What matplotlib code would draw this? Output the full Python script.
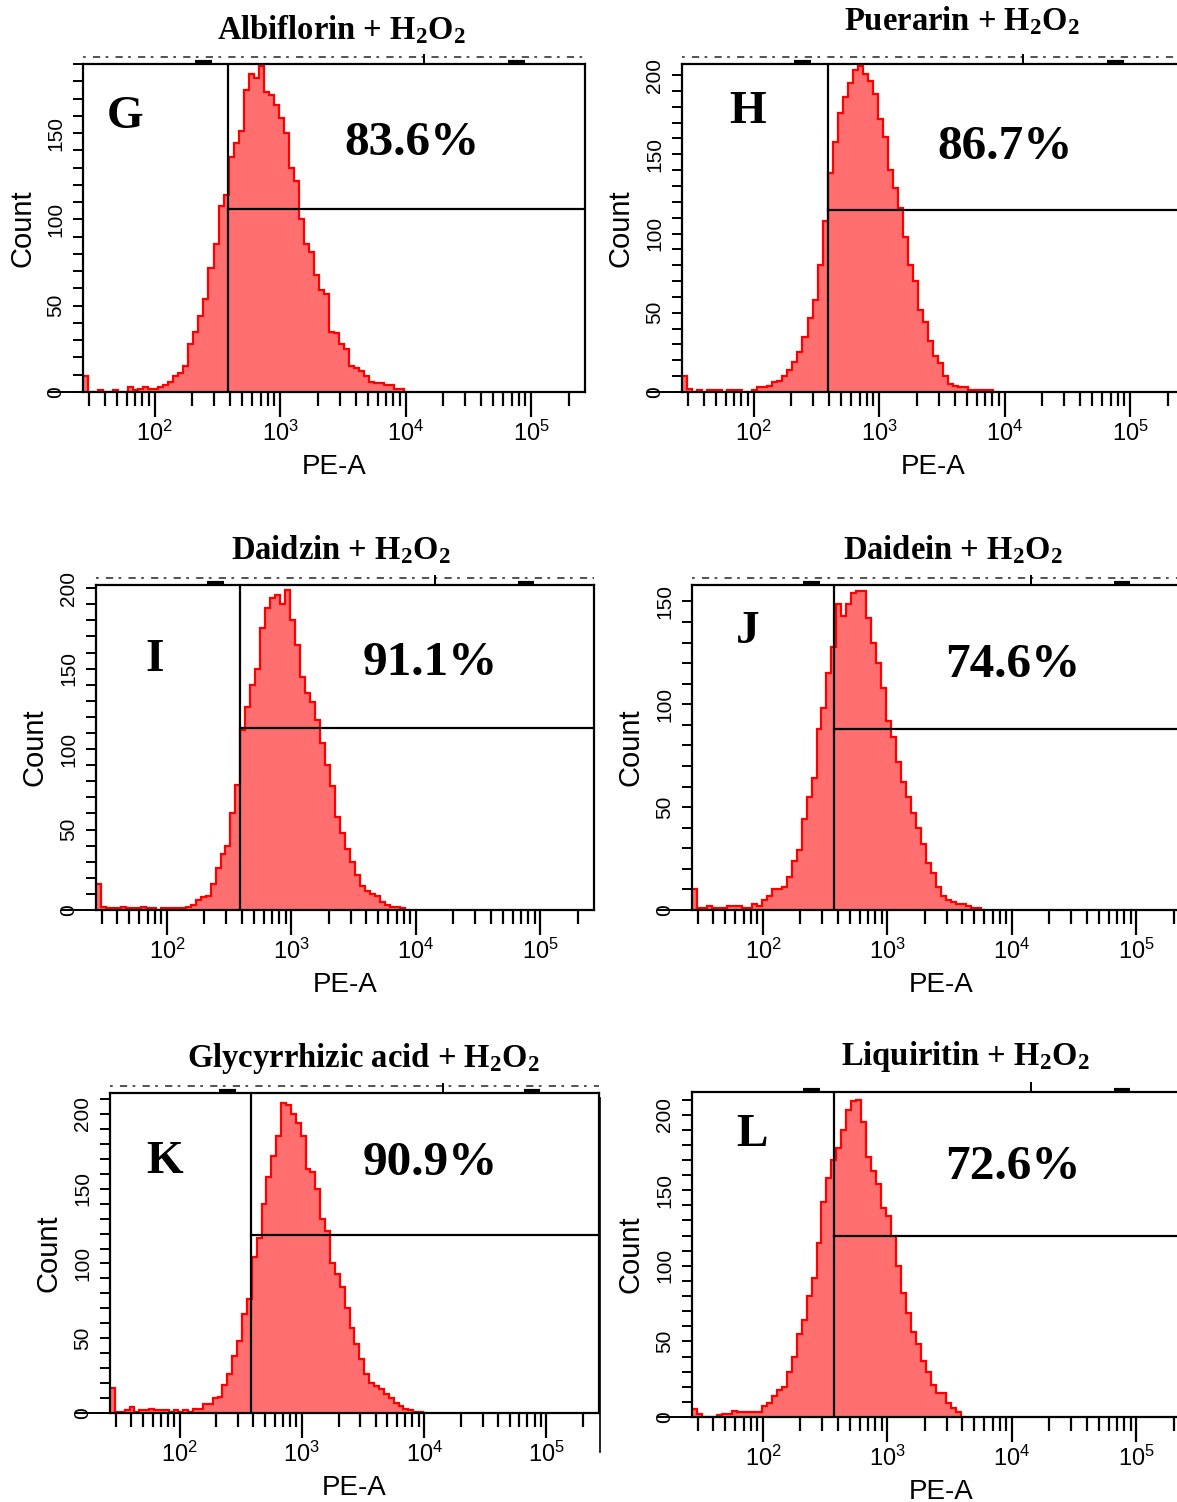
import numpy as np
import matplotlib.pyplot as plt
from matplotlib.ticker import MultipleLocator, LogLocator, FixedLocator, NullFormatter
from matplotlib.lines import Line2D

plt.rcParams['mathtext.fontset'] = 'custom'
plt.rcParams['mathtext.rm'] = 'Liberation Serif:bold'
plt.rcParams['mathtext.it'] = 'Liberation Serif:bold'
plt.rcParams['mathtext.bf'] = 'Liberation Serif:bold'
plt.rcParams['mathtext.sf'] = 'Liberation Sans'

# histogram bins in log10(PE-A): start and width
bin_start = 1.43
bin_step = 0.04

titles = ['Albiflorin', 'Puerarin', 'Daidzin', 'Daidein', 'Glycyrrhizic acid', 'Liquiritin']
letters = ['G', 'H', 'I', 'J', 'K', 'L']
percents = ['83.6%', '86.7%', '91.1%', '74.6%', '90.9%', '72.6%']
ymax = [190, 207, 202, 158, 214, 215]
gate_x = [385, 393, 383, 374, 385, 374]
gate_y = [106, 115, 113, 88, 119, 120]

counts_G = [9, 0, 0, 1, 0, 0, 1, 0, 0, 3, 1, 2, 3, 2, 2, 3, 4, 6, 9, 11,
            15, 28, 35, 44, 54, 72, 86, 108, 114, 136, 144, 151, 175, 184, 182, 189, 174, 172, 166, 159,
            150, 130, 122, 100, 86, 81, 68, 59, 57, 35, 34, 28, 25, 15, 14, 12, 9, 6, 5, 5,
            4, 4, 2, 2, 0]
counts_H = [10, 2, 0, 1, 0, 1, 1, 1, 0, 1, 1, 1, 0, 0, 1, 3, 3, 4, 6, 7,
            10, 14, 19, 25, 35, 47, 58, 80, 108, 138, 158, 176, 186, 195, 203, 206, 201, 196, 188, 172,
            161, 140, 129, 116, 98, 80, 70, 52, 44, 32, 23, 18, 10, 5, 4, 3, 3, 1, 1, 1,
            1, 1, 0]
counts_I = [16, 2, 1, 1, 1, 2, 1, 1, 1, 2, 1, 1, 0, 1, 1, 1, 1, 1, 2, 3,
            6, 8, 9, 16, 26, 35, 40, 60, 78, 112, 126, 140, 150, 175, 188, 194, 196, 190, 199, 180,
            165, 145, 135, 129, 118, 104, 90, 77, 58, 48, 38, 30, 22, 15, 12, 10, 9, 5, 3, 2,
            2, 1, 0]
counts_J = [10, 1, 1, 2, 1, 1, 1, 2, 2, 2, 1, 1, 3, 2, 5, 7, 10, 10, 11, 16,
            24, 29, 44, 55, 64, 88, 98, 115, 128, 149, 143, 149, 154, 155, 155, 142, 130, 120, 108, 92,
            84, 72, 62, 55, 47, 40, 32, 23, 18, 11, 7, 5, 4, 3, 3, 2, 1, 1, 0]
counts_K = [17, 1, 1, 2, 4, 1, 2, 2, 3, 2, 2, 2, 1, 2, 1, 2, 1, 3, 3, 6,
            6, 10, 11, 19, 26, 38, 48, 66, 76, 104, 117, 140, 158, 172, 185, 207, 206, 200, 194, 185,
            163, 161, 150, 130, 122, 100, 93, 84, 70, 57, 46, 36, 26, 20, 18, 16, 13, 10, 7, 5,
            3, 2, 1, 1, 0]
counts_L = [5, 2, 0, 0, 0, 1, 2, 2, 4, 3, 3, 3, 3, 3, 7, 9, 14, 18, 20, 30,
            40, 55, 64, 80, 92, 115, 142, 158, 170, 178, 190, 203, 209, 210, 195, 172, 163, 154, 138, 133,
            120, 100, 82, 69, 56, 48, 37, 30, 21, 16, 16, 9, 6, 3, 0]
all_counts = [counts_G, counts_H, counts_I, counts_J, counts_K, counts_L]

W, H = 1177, 1502
fig = plt.figure(figsize=(W / 100, H / 100), dpi=100)

# axes boxes in pixels: left, top, width, height
boxes = [(83, 64, 502, 328), (682, 64, 502, 328),
         (96, 585, 498, 325), (692, 585, 498, 325),
         (110, 1093, 489, 320), (692, 1092, 498, 325)]
title_pos = [(341, 30), (962, 21), (341, 550), (953, 550), (363, 1058), (965, 1057)]
letter_pos = [(125, 117), (748, 112), (155, 660), (748, 632), (165, 1162), (752, 1135)]
pct_pos = [(412, 143), (1005, 147), (430, 663), (1013, 665), (430, 1163), (1013, 1167)]

fill_col = '#ff6f6f'
xlo, xhi = 10 ** 1.43, 10 ** 5.43


def fx(px):
    return px / W


def fy(py):
    return 1 - py / H


for i in range(6):
    l, t, w, h = boxes[i]
    ax = fig.add_axes([fx(l), fy(t + h), w / W, h / H])
    c = np.array(all_counts[i])
    edges = 10 ** (bin_start + bin_step * np.arange(len(c) + 1))
    ax.stairs(c, edges, fill=True, color=fill_col, baseline=0, zorder=1)
    ax.stairs(c, edges, color='#ff0000', lw=1.6, baseline=None, zorder=2)

    ax.set_xscale('log')
    ax.set_xlim(xlo, xhi)
    ax.set_ylim(0, ymax[i])

    # quadrant gate
    ax.axvline(gate_x[i], color='black', lw=1.6, zorder=3)
    ax.plot([gate_x[i], xhi], [gate_y[i], gate_y[i]], color='black', lw=1.6, zorder=3)

    for s in ax.spines.values():
        s.set_linewidth(1.6)

    ax.xaxis.set_major_locator(FixedLocator([1e2, 1e3, 1e4, 1e5]))
    ax.set_xticklabels([r'$\mathsf{10^{%d}}$' % k for k in range(2, 6)])
    ax.xaxis.set_minor_locator(LogLocator(base=10, subs=np.arange(2, 10), numticks=20))
    ax.xaxis.set_minor_formatter(NullFormatter())
    ax.tick_params(axis='x', which='major', length=18, width=1.6, pad=3, labelsize=17)
    ax.tick_params(axis='x', which='minor', length=10, width=1.6)

    ax.yaxis.set_major_locator(MultipleLocator(50))
    ax.yaxis.set_minor_locator(MultipleLocator(10))
    ax.tick_params(axis='y', which='both', length=7, width=1.4, pad=6, labelsize=15,
                   labelrotation=90)
    for lab in ax.get_yticklabels():
        lab.set_verticalalignment('center')
    for lab in ax.get_xticklabels() + ax.get_yticklabels():
        lab.set_fontfamily('Liberation Sans')

    ax.set_xlabel('PE-A', fontsize=20, fontfamily='Liberation Sans')
    ax.set_ylabel('Count', fontsize=21, fontfamily='Liberation Sans')
    ax.xaxis.set_label_coords(0.5, -75 / h)
    ax.xaxis.label.set_va('center')
    ax.yaxis.set_label_coords(-61 / w, 0.5)
    ax.yaxis.label.set_va('center')

    # zero line extending left of the y axis
    ax.plot([-34 / w, 0], [0, 0], transform=ax.transAxes, color='black', lw=1.4, clip_on=False)

    # acquisition artefacts above the plot frame
    if i != 5:
        ax.plot([0, 1], [1 + 7 / h, 1 + 7 / h], transform=ax.transAxes, color='#444444',
                lw=1.3, ls=(0, (1.5, 4, 4, 3)), clip_on=False)
    for a, b in [(0.223, 0.257), (0.847, 0.88)]:
        ax.plot([a, b], [1 + 2.5 / h, 1 + 2.5 / h], transform=ax.transAxes, color='black',
                lw=3, solid_capstyle='butt', clip_on=False)
    ax.plot([0.68, 0.68], [1, 1 + 9 / h], transform=ax.transAxes, color='black', lw=1.4,
            clip_on=False)

    fig.text(fx(title_pos[i][0]), fy(title_pos[i][1]),
             titles[i] + r' + H$_2$O$_2$', ha='center', va='center', fontsize=23.5,
             fontfamily='Liberation Serif', fontweight='bold')
    fig.text(fx(letter_pos[i][0]), fy(letter_pos[i][1]), letters[i], ha='center', va='center',
             fontsize=34, fontfamily='Liberation Serif', fontweight='bold')
    fig.text(fx(pct_pos[i][0]), fy(pct_pos[i][1]), percents[i], ha='center', va='center',
             fontsize=35.5, fontfamily='Liberation Serif', fontweight='bold')

# stray frame edge left of the last panel
fig.add_artist(Line2D([fx(600), fx(600)], [fy(1098), fy(1452)], color='black', lw=1.2))

fig.savefig('out.png', dpi=100)
